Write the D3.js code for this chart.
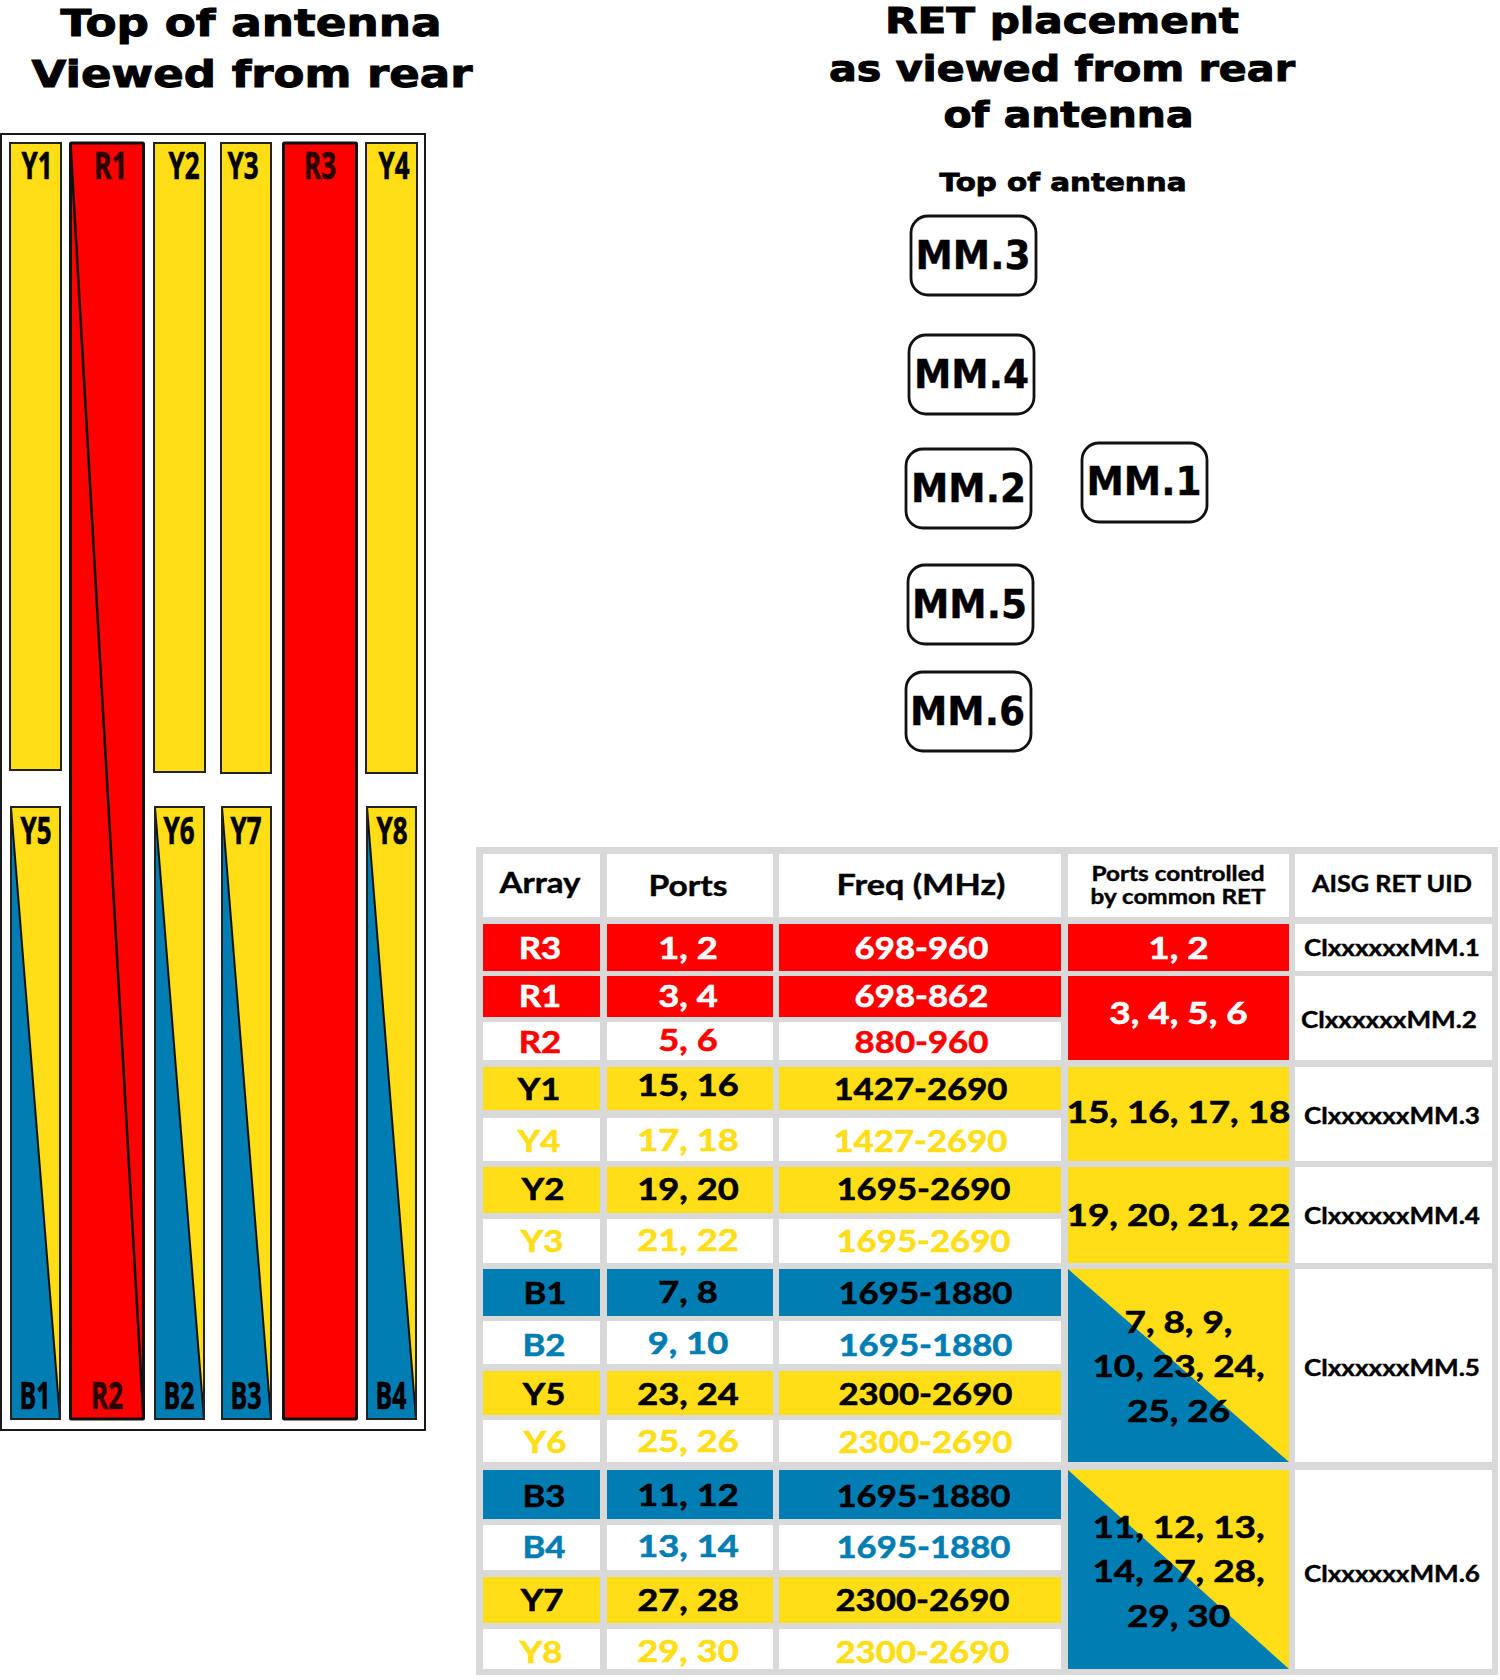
<!DOCTYPE html>
<html>
<head>
<meta charset="utf-8">
<title>RET placement</title>
<script src="https://cdn.jsdelivr.net/npm/d3@7"></script>
<style>
  body { margin: 0; background: #fff; }
  svg { display: block; }
</style>
</head>
<body>
<div class="canvas"></div>
<script>
// chart content
const topElements = ["Y1", "Y2", "Y3", "Y4"];
const lowerElements = ["Y5", "Y6", "Y7", "Y8"];
const blueElements = ["B1", "B2", "B3", "B4"];
const redElements = ["R1", "R3"];

const headers = ["Array", "Ports", "Freq (MHz)", "Ports controlled", "by common RET", "AISG RET UID"];
const arrayNames = ["R3", "R1", "R2", "Y1", "Y4", "Y2", "Y3", "B1", "B2", "Y5", "Y6", "B3", "B4", "Y7", "Y8"];
const portLabels = ["1, 2", "3, 4", "5, 6", "15, 16", "17, 18", "19, 20", "21, 22", "7, 8", "9, 10", "23, 24", "25, 26", "11, 12", "13, 14", "27, 28", "29, 30"];
const freqLabels = ["698-960", "698-862", "880-960", "1427-2690", "1427-2690", "1695-2690", "1695-2690", "1695-1880", "1695-1880", "2300-2690", "2300-2690", "1695-1880", "1695-1880", "2300-2690", "2300-2690"];
const filledRows = [true, true, false, true, false, true, false, true, false, true, false, true, false, true, false];

const retLabels = [["1, 2"], ["3, 4, 5, 6"], ["15, 16, 17, 18"], ["19, 20, 21, 22"], ["7, 8, 9,", "10, 23, 24,", "25, 26"], ["11, 12, 13,", "14, 27, 28,", "29, 30"]];
const retFirstRow = ["R3", "R1", "Y1", "Y2", "B1", "B3"];
const retLastRow = ["R3", "R2", "Y4", "Y3", "Y6", "Y8"];
const retKinds = ["red", "red", "yellow", "yellow", "split", "split"];
const uidLabels = ["ClxxxxxxMM.1", "ClxxxxxxMM.2", "ClxxxxxxMM.3", "ClxxxxxxMM.4", "ClxxxxxxMM.5", "ClxxxxxxMM.6"];
const retBoxes = ["MM.3", "MM.4", "MM.2", "MM.1", "MM.5", "MM.6"];

// colours
const red = "#ff0000";
const yellow = "#ffde17";
const blue = "#007db3";
const grid = "#d9d9d9";
const colourOf = d3.scaleOrdinal(["R", "Y", "B"], [red, yellow, blue]);

// layout: antenna
const frame = { left: 1, top: 134, right: 425, bottom: 1430 };
const elemTop = 143;
const elemBottom = 1419;
const lowerTop = 807;
const topX = d3.scaleOrdinal(topElements, [10, 154, 221, 366]);
const topW = d3.scaleOrdinal(topElements, [51, 51, 50, 51]);
const topEnd = d3.scaleOrdinal(topElements, [770, 772, 773, 773]);
const topText = d3.scaleOrdinal(topElements, [37, 184, 243, 394]);
const lowerX = d3.scaleOrdinal(lowerElements, [11, 155, 222, 367]);
const lowerText = d3.scaleOrdinal(lowerElements, [36, 179, 246, 392]);
const blueText = d3.scaleOrdinal(blueElements, [35, 179, 246, 391]);
const redX = d3.scaleOrdinal(redElements, [70.5, 283.5]);
const redText = d3.scaleOrdinal(redElements, [110.5, 320]);

// layout: RET boxes
const boxX = d3.scaleOrdinal(retBoxes, [911, 909, 906, 1082, 908, 906]);
const boxY = d3.scaleOrdinal(retBoxes, [216, 335, 449, 443, 565, 672]);
const boxBase = d3.scaleOrdinal(retBoxes, [269, 388, 502, 495, 618, 725]);
const boxText = d3.scaleOrdinal(retBoxes, [973, 971.5, 968.5, 1144, 969.5, 967.5]);

// layout: table
const colLeft = [483, 607, 779, 1068, 1295];
const colRight = [600, 773, 1061, 1289, 1492];
const rowY = d3.scaleOrdinal(arrayNames, [924, 976, 1022, 1067, 1118, 1167, 1219, 1269, 1321, 1371, 1420, 1470, 1525, 1577, 1629]);
const rowEnd = d3.scaleOrdinal(arrayNames, [971, 1017, 1060, 1110, 1161, 1213, 1263, 1316, 1364, 1415, 1462, 1519, 1570, 1623, 1669]);
const arrayText = d3.scaleOrdinal(arrayNames, [540, 540, 540, 539, 539, 543, 542, 545, 544, 544, 545, 544, 544, 542, 541]);
const freqText = d3.scaleOrdinal(arrayNames, [921.5, 921.5, 921.5, 920.5, 920.5, 923.5, 923.5, 925.5, 925.5, 925.5, 925.5, 923.5, 923.5, 922.5, 922.5]);
const baseline = d3.scaleOrdinal(arrayNames, [959, 1007, 1053, 1100, 1152, 1200, 1252, 1304, 1356, 1405, 1453, 1507, 1558, 1611, 1663]);
const portBase = d3.scaleOrdinal(arrayNames, [959, 1007, 1051, 1096, 1151, 1200, 1251, 1303, 1354, 1405, 1452, 1506, 1557, 1611, 1662]);
const retBase = d3.scaleOrdinal(retFirstRow, [959, 1024, 1123, 1226, 1333, 1538]);
const uidBase = d3.scaleOrdinal(retFirstRow, [956, 1028, 1124, 1224, 1376, 1582]);

const svg = d3.select(".canvas").append("svg").attr("width", 1500).attr("height", 1680);

const heavy = "'DejaVu Sans', sans-serif";
const body = "Lato, sans-serif";
const narrow = "'Open Sans', sans-serif";

// text helper, width squeezes or stretches to the measured length
function put(g, str, x, y, size, opts = {}) {
  const t = g
    .append("text")
    .attr("x", x)
    .attr("y", y)
    .attr("text-anchor", "middle")
    .attr("font-family", opts.family || body)
    .attr("font-weight", opts.weight || 700)
    .attr("font-size", size)
    .attr("fill", opts.fill || "#000")
    .text(str);
  if (opts.width) t.attr("textLength", opts.width).attr("lengthAdjust", "spacingAndGlyphs");
  if (opts.k) t.attr("transform", `translate(${x},${y}) scale(${opts.k},1) translate(${-x},${-y})`);
  if (opts.stroke) t.attr("stroke", opts.fill || "#000").attr("stroke-width", opts.stroke);
  return t;
}

// titles
const titles = svg.append("g").attr("id", "titles");
const titleOpts = (width, stroke = 1) => ({ family: heavy, weight: 700, width, stroke });
put(titles, "Top of antenna", 251, 36, 38, titleOpts(381));
put(titles, "Viewed from rear", 252, 87, 38, titleOpts(441));
put(titles, "RET placement", 1062, 33, 36, titleOpts(354));
put(titles, "as viewed from rear", 1062, 81, 36, titleOpts(466));
put(titles, "of antenna", 1068.5, 127, 36, titleOpts(250));
put(titles, "Top of antenna", 1063, 191, 25, titleOpts(247, 0.8));

// antenna
const antenna = svg.append("g").attr("id", "antenna");
antenna
  .append("rect")
  .attr("x", frame.left)
  .attr("y", frame.top)
  .attr("width", frame.right - frame.left)
  .attr("height", frame.bottom - frame.top)
  .attr("fill", "#fff")
  .attr("stroke", "#1a1a1a")
  .attr("stroke-width", 2);

antenna
  .selectAll(".upper")
  .data(topElements)
  .enter()
  .append("rect")
  .attr("class", "upper")
  .attr("x", (d) => topX(d))
  .attr("y", elemTop)
  .attr("width", (d) => topW(d))
  .attr("height", (d) => topEnd(d) - elemTop)
  .attr("fill", yellow)
  .attr("stroke", "#222")
  .attr("stroke-width", 2);

antenna
  .selectAll(".lower")
  .data(lowerElements)
  .enter()
  .append("rect")
  .attr("class", "lower")
  .attr("x", (d) => lowerX(d))
  .attr("y", lowerTop)
  .attr("width", 49)
  .attr("height", elemBottom - lowerTop)
  .attr("fill", yellow);

// blue half of each lower element, same wedge on all four
antenna
  .selectAll(".wedge")
  .data(lowerElements)
  .enter()
  .append("path")
  .attr("class", "wedge")
  .attr("d", (d) => {
    const x0 = lowerX(d);
    return d3.line()([[x0, lowerTop], [x0 + 49, elemBottom], [x0, elemBottom]]) + "Z";
  })
  .attr("fill", blue);

antenna
  .selectAll(".diag")
  .data(lowerElements)
  .enter()
  .append("line")
  .attr("class", "diag")
  .attr("x1", (d) => lowerX(d))
  .attr("y1", lowerTop)
  .attr("x2", (d) => lowerX(d) + 49)
  .attr("y2", elemBottom)
  .attr("stroke", "#111")
  .attr("stroke-width", 2);

antenna
  .selectAll(".lower-edge")
  .data(lowerElements)
  .enter()
  .append("rect")
  .attr("class", "lower-edge")
  .attr("x", (d) => lowerX(d))
  .attr("y", lowerTop)
  .attr("width", 49)
  .attr("height", elemBottom - lowerTop)
  .attr("fill", "none")
  .attr("stroke", "#222")
  .attr("stroke-width", 2);

antenna
  .selectAll(".red")
  .data(redElements)
  .enter()
  .append("rect")
  .attr("class", "red")
  .attr("x", (d) => redX(d))
  .attr("y", elemTop)
  .attr("width", 73)
  .attr("height", elemBottom - elemTop)
  .attr("rx", 1)
  .attr("fill", red)
  .attr("stroke", "#111")
  .attr("stroke-width", 3);

antenna
  .append("line")
  .attr("x1", redX("R1"))
  .attr("y1", elemTop)
  .attr("x2", redX("R1") + 73)
  .attr("y2", elemBottom)
  .attr("stroke", "#111")
  .attr("stroke-width", 2.5);

// condensed element labels
const tagSize = 38;
const tagOpts = (width, fill = "#000") => ({ width, fill, family: narrow, stroke: 0.7 });
topElements.forEach((d) => put(antenna, d, topText(d), 179, tagSize, tagOpts(31)));
lowerElements.forEach((d) => put(antenna, d, lowerText(d), 844, tagSize, tagOpts(31)));
blueElements.forEach((d) => put(antenna, d, blueText(d), 1409, tagSize, tagOpts(31)));
put(antenna, "R1", redText("R1"), 179, tagSize, tagOpts(33, "#2a0000"));
put(antenna, "R3", redText("R3"), 179, tagSize, tagOpts(32, "#2a0000"));
put(antenna, "R2", 107, 1409, tagSize, tagOpts(32, "#2a0000"));

// RET boxes
const boxes = svg.append("g").attr("id", "boxes");
boxes
  .selectAll("rect")
  .data(retBoxes)
  .enter()
  .append("rect")
  .attr("x", (d) => boxX(d))
  .attr("y", (d) => boxY(d))
  .attr("width", 125)
  .attr("height", 79)
  .attr("rx", 17)
  .attr("fill", "#fff")
  .attr("stroke", "#111")
  .attr("stroke-width", 2.8);
retBoxes.forEach((d) => put(boxes, d, boxText(d), boxBase(d), 39, { family: heavy, width: 115, stroke: 0.4 }));

// table
const table = svg.append("g").attr("id", "table");
table.append("rect").attr("x", 476).attr("y", 847).attr("width", 1022).attr("height", 828).attr("fill", grid);

// header cells
table
  .selectAll(".head")
  .data(colLeft)
  .enter()
  .append("rect")
  .attr("class", "head")
  .attr("x", (d) => d)
  .attr("y", 854)
  .attr("width", (d, i) => colRight[i] - d)
  .attr("height", 63)
  .attr("fill", "#fff");

const headOpts = (width) => ({ width, stroke: 0.4 });
put(table, headers[0], 540, 893, 29, headOpts(81));
put(table, headers[1], 688, 896, 29, headOpts(79));
put(table, headers[2], 921, 895, 29, headOpts(169));
put(table, headers[3], 1178, 881, 20, headOpts(173));
put(table, headers[4], 1178, 904, 20, headOpts(175));
put(table, headers[5], 1392, 892, 23, headOpts(160));

// first three columns, one row per array
[0, 1, 2].forEach((c) => {
  table
    .selectAll(`.col${c}`)
    .data(arrayNames)
    .enter()
    .append("rect")
    .attr("class", `col${c}`)
    .attr("x", colLeft[c])
    .attr("y", (d) => rowY(d))
    .attr("width", colRight[c] - colLeft[c])
    .attr("height", (d) => rowEnd(d) - rowY(d))
    .attr("fill", (d, i) => (filledRows[i] ? colourOf(d[0]) : "#fff"));
});

const cellFill = (d, i) => {
  if (!filledRows[i]) return colourOf(d[0]);
  return d[0] === "R" ? "#fff" : "#000";
};
const bodySize = 31;
const bodyStroke = 0.6;
arrayNames.forEach((d, i) => {
  const fill = cellFill(d, i);
  put(table, d, arrayText(d), baseline(d), bodySize, { fill, k: 1.12, stroke: bodyStroke });
  put(table, portLabels[i], 688, portBase(d), bodySize, { fill, k: 1.17, stroke: bodyStroke });
  put(table, freqLabels[i], freqText(d), baseline(d), bodySize, { fill, k: 1.12, stroke: bodyStroke });
});

// merged RET and UID cells
retFirstRow.forEach((first, i) => {
  const last = retLastRow[i];
  const x0 = colLeft[3];
  const x1 = colRight[3];
  const y0 = rowY(first);
  const y1 = rowEnd(last);
  table
    .append("rect")
    .attr("x", x0)
    .attr("y", y0)
    .attr("width", x1 - x0)
    .attr("height", y1 - y0)
    .attr("fill", retKinds[i] === "red" ? red : yellow);
  if (retKinds[i] === "split") {
    table.append("path").attr("d", d3.line()([[x0, y0], [x1, y1], [x0, y1]]) + "Z").attr("fill", blue);
  }
  const fill = retKinds[i] === "red" ? "#fff" : "#000";
  retLabels[i].forEach((s, j) => put(table, s, 1178.5, retBase(first) + j * 44.5, bodySize, { fill, k: 1.19, stroke: bodyStroke }));

  table
    .append("rect")
    .attr("x", colLeft[4])
    .attr("y", y0)
    .attr("width", colRight[4] - colLeft[4])
    .attr("height", y1 - y0)
    .attr("fill", "#fff");
  put(table, uidLabels[i], i === 1 ? 1389 : 1392, uidBase(first), 23, { width: 176, stroke: 0.4 });
});
</script>
</body>
</html>
